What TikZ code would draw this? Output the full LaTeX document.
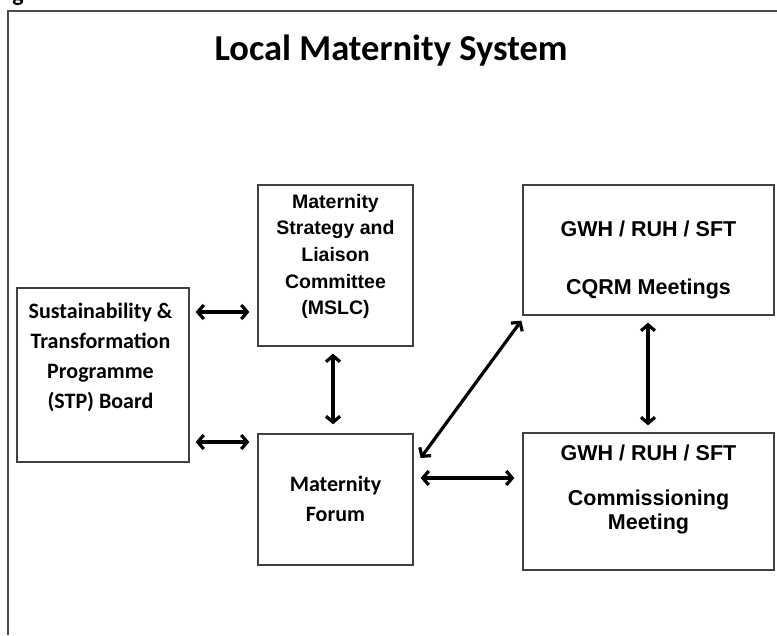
\documentclass[tikz,border=0pt]{standalone}
\usepackage{fontspec}
\setmainfont{Carlito}
\newfontfamily\arialf{Liberation Sans}
\usetikzlibrary{arrows.meta,calc}
\begin{document}
\begin{tikzpicture}[x=1pt,y=-1pt,
  box/.style={draw=black!75, line width=1.3pt, inner sep=0pt},
  txt/.style={inner sep=0pt, align=center, text=black},
  link/.style={line width=3.2pt, black,
    {Straight Barb[length=6pt,width=14pt]}-{Straight Barb[length=6pt,width=14pt]}},
]
\useasboundingbox (0,0) rectangle (777,635);
% outer frame (cropped)
\draw[black!70, line width=1.5pt] (8,635) -- (8,11) -- (777,11);
\begin{scope}
\clip (0,0) rectangle (777,10);
\node[txt, anchor=base, font=\bfseries\fontsize{24}{24}\selectfont] (figg) at (18,1) {g};
\end{scope}

% title
\node[txt, anchor=base, font=\bfseries\fontsize{36.5}{40}\selectfont] (title) at (391,60) {Local Maternity System};

% boxes
\node[box, minimum width=172pt, minimum height=174pt] (stp) at (103,375) {};
\node[box, minimum width=155pt, minimum height=161pt] (mslc) at (335.5,265.5) {};
\node[box, minimum width=155pt, minimum height=131pt] (forum) at (335.5,499.5) {};
\node[box, minimum width=251pt, minimum height=130pt] (cqrm) at (648.5,250) {};
\node[box, minimum width=251pt, minimum height=137pt] (comm) at (648.5,501.5) {};

% texts
\node[txt, font=\bfseries\fontsize{22}{30}\selectfont] (stpt) at (100.5,357)
  {Sustainability \&\\Transformation\\Programme\\(STP) Board};
\node[txt, font=\arialf\bfseries\fontsize{19.5}{26.7}\selectfont] (mslct) at (335.5,256.5)
  {Maternity\\Strategy and\\Liaison\\Committee\\(MSLC)};
\node[txt, font=\arialf\bfseries\fontsize{21.5}{58}\selectfont] (cqrmt) at (648.5,260)
  {GWH / RUH / SFT\\CQRM Meetings};
\node[txt, font=\arialf\bfseries\fontsize{21.5}{24}\selectfont] (commt1) at (648.5,453)
  {GWH / RUH / SFT};
\node[txt, font=\arialf\bfseries\fontsize{21.5}{23.5}\selectfont] (commt2) at (648.5,512)
  {Commissioning\\Meeting};
\node[txt, font=\bfseries\fontsize{22}{30}\selectfont] (forumt) at (335.5,499)
  {Maternity\\Forum};

% connectors
\draw[link, shorten <=6pt, shorten >=8pt] (stp.east |- 0,312) -- (mslc.west |- 0,312);
\draw[link, shorten <=6pt, shorten >=8pt] (stp.east |- 0,442) -- (forum.west |- 0,442);
\draw[link, shorten <=7pt, shorten >=9pt] (mslc.south -| 333,0) -- (forum.north -| 333,0);
\draw[link] ($(forum.east)+(7,-41.5)$) -- ($(cqrm.south west)+(-1,5)$);
\draw[link, shorten <=7pt, shorten >=8pt] (forum.east |- 0,478) -- (comm.west |- 0,478);
\draw[link, shorten <=7pt, shorten >=7pt] (cqrm.south -| 648,0) -- (comm.north -| 648,0);
\end{tikzpicture}
\end{document}
